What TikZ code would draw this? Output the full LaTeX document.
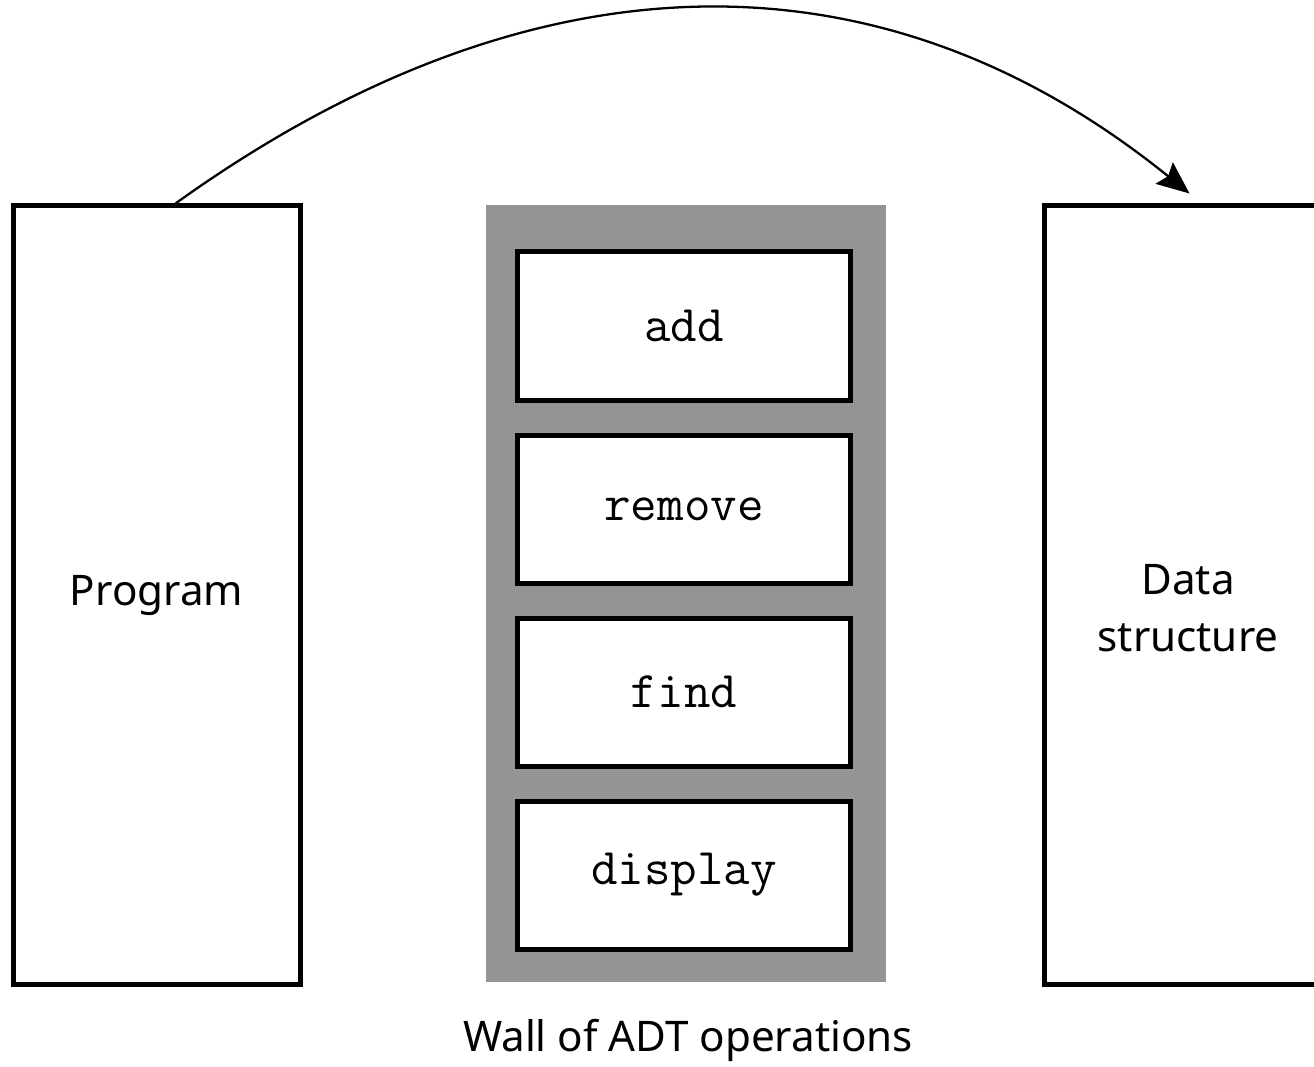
\documentclass[tikz,border=0pt]{standalone}
\usepackage{fontspec}
\setmainfont{Noto Sans}
\usetikzlibrary{arrows.meta}
\definecolor{wallgray}{HTML}{949494}
\begin{document}
\begin{tikzpicture}[
    box/.style={draw, line width=0.1cm, minimum width=5.74cm, minimum height=15.56cm},
    lbl/.style={align=center, font=\fontsize{24}{32.3}\selectfont},
    opbox/.style={draw, fill=white, line width=0.1cm, minimum width=6.65cm, minimum height=2.96cm, font=\ttfamily\fontsize{29.3}{34}\selectfont}]
    \useasboundingbox (0,0) rectangle (26.28,21.32);

    % Program and data structure
    \node[box, lbl] (prog) at (3.13,9.42) {Program};
    \node[box] (data) at (23.76,9.42) {};
    \node[lbl] (datatxt) at ([yshift=-0.26cm]data.center) {Data\\structure};

    % Wall of operations
    \node[fill=wallgray, minimum width=8cm, minimum height=15.54cm] (wall) at (13.72,9.45) {};
    \foreach \op/\y in {add/14.8, remove/11.14, find/7.48, display/3.82}
        \node[opbox] (\op) at (13.68,\y) {\op};
    \node[lbl] (walllbl) at (13.76,0.52) {Wall of ADT operations};

    % Arrow over the wall
    \coordinate (from) at ([xshift=3.3cm]prog.north west);
    \coordinate (to) at ([xshift=2.95cm,yshift=0.2cm]data.north west);
    \draw[line width=1.3pt, -{Stealth[length=6.5mm,width=5.5mm,inset=1mm]}] (from) .. controls (10.32,22.14) and (17.34,22.66) .. (to);
\end{tikzpicture}
\end{document}
